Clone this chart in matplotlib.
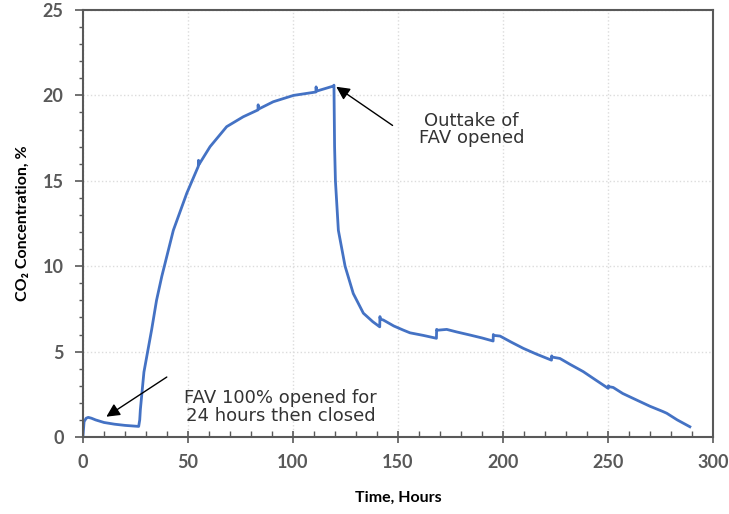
import matplotlib
matplotlib.use('Agg')
import matplotlib.pyplot as plt
from matplotlib.ticker import MultipleLocator

# CO2 concentration readings
hours = [0, 0.5, 1.5, 2.5, 4, 6, 10, 15, 20, 26.5, 27, 27.3, 29, 32.7, 35, 37.5,
         43, 49.4, 54.9, 55.0, 55.2, 60.5, 68.4, 76.3, 83.3, 83.4, 83.6, 90.6,
         100.2, 110.9, 111.0, 111.2, 119.3, 119.5, 119.8, 120.2, 121.6, 124.8,
         128.7, 133.5, 138, 141.3, 141.4, 141.6, 143, 148, 152.5, 155.7, 162,
         168.3, 168.4, 168.6, 173.2, 178, 184.3, 190, 195.3, 195.4, 195.6,
         198.6, 204, 209.7, 216, 223.1, 223.2, 223.4, 227.1, 232, 238.2, 244,
         250.1, 250.2, 250.4, 252.5, 257, 262, 270, 276, 278, 283, 289]
co2 = [0.1, 0.9, 1.1, 1.15, 1.1, 1.0, 0.85, 0.75, 0.68, 0.62, 1.0, 1.6, 3.8,
       6.3, 8.0, 9.4, 12.1, 14.27, 15.85, 16.2, 15.95, 17.0, 18.17, 18.75,
       19.15, 19.45, 19.2, 19.63, 20.0, 20.2, 20.5, 20.25, 20.55, 20.6, 17.0,
       15.0, 12.1, 10.0, 8.4, 7.25, 6.75, 6.45, 7.05, 6.9, 6.85, 6.5, 6.26,
       6.1, 5.95, 5.78, 6.3, 6.25, 6.3, 6.15, 5.97, 5.8, 5.62, 6.0, 5.95,
       5.91, 5.55, 5.19, 4.85, 4.5, 4.75, 4.68, 4.6, 4.25, 3.83, 3.35, 2.85,
       3.0, 2.95, 2.9, 2.55, 2.26, 1.8, 1.5, 1.39, 1.0, 0.6]

fig = plt.figure(figsize=(7.29, 5.14), dpi=100)
ax = fig.add_axes([0.1139, 0.1498, 0.8641, 0.8307])

ax.plot(hours, co2, color='#4472C4', lw=2)

ax.set_xlim(0, 300)
ax.set_ylim(0, 25)
ax.xaxis.set_major_locator(MultipleLocator(50))
ax.xaxis.set_minor_locator(MultipleLocator(10))
ax.yaxis.set_major_locator(MultipleLocator(5))
ax.yaxis.set_minor_locator(MultipleLocator(1))
ax.grid(True, which='major', linestyle=':', color='#dcdcdc', lw=1)

ax.tick_params(axis='x', which='major', direction='inout', length=9, width=1.2,
               color='#595959', pad=8)
ax.tick_params(axis='x', which='minor', direction='in', length=4, width=1,
               color='#595959')
ax.tick_params(axis='y', which='major', direction='out', length=6, width=1.2,
               color='#595959', pad=8)
ax.tick_params(axis='y', which='minor', direction='out', length=3, width=1,
               color='#595959')
for lab in ax.get_xticklabels() + ax.get_yticklabels():
    lab.set_fontsize(13)
    lab.set_fontweight('bold')
    lab.set_color('#595959')
    lab.set_family('Lato')

for s in ax.spines.values():
    s.set_color('#595959')
    s.set_linewidth(1.5)

ax.set_xlabel('Time, Hours', fontsize=11.5, fontweight='bold', family='Lato', labelpad=14)
ax.set_ylabel('CO₂ Concentration, %', fontsize=11.5, fontweight='bold',
              family=['Lato', 'DejaVu Sans'], labelpad=9)

arrow = dict(arrowstyle='-|>', color='black', lw=1, mutation_scale=20)
ax.annotate('FAV 100% opened for\n24 hours then closed', xy=(10, 1.1),
            xytext=(94, 1.75), ha='center', va='center', fontsize=13,
            color='#333333', linespacing=0.95)
ax.annotate('', xy=(10, 1.1), xytext=(41, 3.6), arrowprops=arrow)
ax.annotate('Outtake of\nFAV opened', xy=(119.5, 20.6), xytext=(185, 18.0),
            ha='center', va='center', fontsize=13, color='#333333',
            linespacing=0.95)
ax.annotate('', xy=(119.5, 20.6), xytext=(148.5, 18.15), arrowprops=arrow)

fig.savefig('out.png', dpi=100)
